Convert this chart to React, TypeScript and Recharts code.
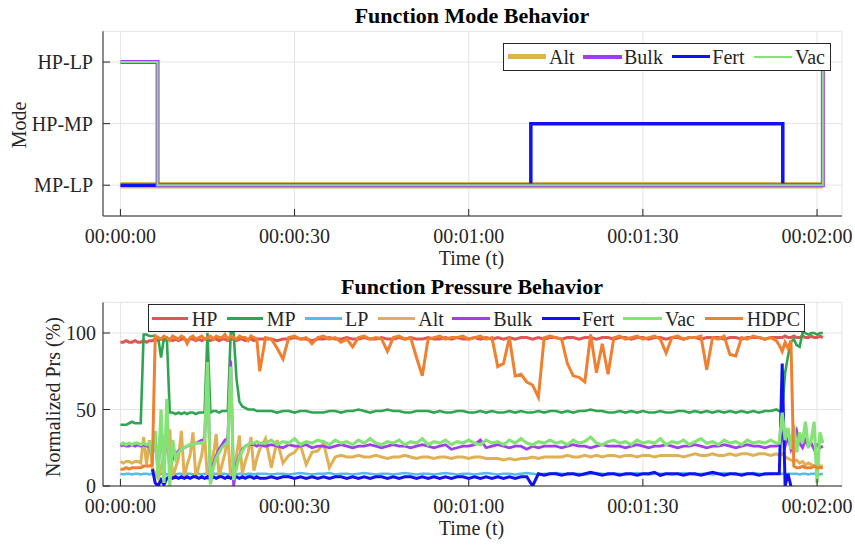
import React from "react";
import { LineChart, Line, XAxis, YAxis, CartesianGrid } from "recharts";

// ---------- Top chart: Function Mode Behavior ----------
const modeTime = [0, 6.4, 70.7, 114.1, 121];
const modeAlt = [0, 0, 0, 0, 0];
const modeBulk = [2, 0, 0, 0, 2];
const modeFert = [0, 0, 1, 0, 0];
const modeVac = [2, 0, 0, 0, 2];
const modeTickLabels = ["MP-LP", "HP-MP", "HP-LP"];

// ---------- Bottom chart: Function Pressure Behavior ----------
const timeSec = [
  0, 0.5, 1, 1.5, 2, 2.5, 3, 3.5, 4, 4.5,
  5, 5.5, 6, 6.5, 7, 7.5, 8, 8.5, 9, 9.5,
  10, 10.5, 11, 11.5, 12, 12.5, 13, 13.5, 14, 14.5,
  15, 15.5, 16, 16.5, 17, 17.5, 18, 18.5, 19, 19.5,
  20, 20.5, 21, 21.5, 22, 22.5, 23, 23.5, 24,
  25, 26, 27, 28, 29, 30, 31, 32, 33, 34,
  35, 36, 37, 38, 39, 40, 41, 42, 43, 44,
  45, 46, 47, 48, 49, 50, 51, 52, 53, 54,
  55, 56, 57, 58, 59, 60, 61, 62, 63, 64,
  65, 66, 67, 68, 69, 70, 71, 72, 73, 74,
  75, 76, 77, 78, 79, 80, 81, 82, 83, 84,
  85, 86, 87, 88, 89, 90, 91, 92, 93, 94,
  95, 96, 97, 98, 99, 100, 101, 102, 103, 104,
  105, 106, 107, 108, 109, 110, 111, 112, 113,
  113.5, 114, 114.5, 115, 115.5, 116, 116.5, 117, 117.5, 118, 118.5, 119, 119.5, 120, 120.5, 121,
];

const hpPrs = [
  94, 94, 95, 94, 94, 95, 94, 94, 95, 94,
  95, 95, 96, 95, 96, 95, 96, 96, 95, 96,
  95, 96, 96, 95, 96, 96, 95, 96, 95, 96,
  96, 95, 96, 96, 95, 96, 96, 95, 96, 96,
  95, 96, 96, 95, 96, 96, 95, 96, 96,
  96, 96, 95, 96, 96, 97, 96, 96, 95, 96,
  96, 97, 96, 96, 97, 96, 96, 97, 96, 96,
  97, 96, 96, 97, 96, 97, 96, 96, 97, 96,
  96, 97, 96, 97, 96, 96, 97, 96, 97, 96,
  97, 96, 97, 96, 97, 97, 96, 97, 96, 97,
  97, 96, 97, 97, 96, 97, 97, 96, 97, 97,
  96, 97, 97, 96, 97, 97, 96, 97, 97, 96,
  97, 97, 96, 97, 97, 96, 97, 97, 97, 96,
  97, 97, 96, 97, 97, 97, 96, 97, 97,
  97, 97, 98, 97, 97, 98, 97, 97, 98, 97, 97, 98, 97, 97, 98, 97,
];

const mpPrs = [
  40, 40, 40, 41, 42, 41, 41, 41, 99, 99,
  98, 98, 98, 97, 84, 97, 97, 48, 48, 47,
  48, 47, 48, 47, 48, 48, 47, 48, 48, 48,
  100, 48, 49, 49, 48, 49, 49, 49, 100, 100,
  70, 55, 52, 51, 50, 50, 50, 49, 49,
  49, 49, 48, 49, 49, 48, 49, 49, 48, 48,
  48, 49, 49, 48, 49, 49, 50, 49, 48, 49,
  49, 50, 49, 49, 48, 48, 49, 49, 49, 48,
  49, 48, 48, 49, 49, 48, 48, 49, 48, 49,
  48, 48, 49, 48, 49, 48, 48, 49, 48, 49,
  49, 48, 49, 48, 49, 49, 50, 49, 49, 48,
  48, 49, 48, 49, 48, 49, 48, 48, 49, 48,
  48, 49, 49, 48, 49, 48, 49, 48, 49, 48,
  49, 48, 49, 48, 49, 48, 49, 49, 50,
  49, 50, 74, 85, 94, 96, 92, 91, 100, 100, 99, 100, 100, 99, 100, 100,
];

const lpPrs = [
  8, 7.5, 8, 8, 7.5, 8, 8, 7.5, 8, 8,
  7.5, 8, 8, 7.5, 8, 8, 7.5, 8, 8, 7.5,
  8, 8, 7.5, 8, 8, 7.5, 8, 8, 7.5, 8,
  8, 7.5, 8, 8, 7.5, 8, 8, 7.5, 8, 8,
  7.5, 8, 8, 7.5, 8, 8, 7.5, 8, 8,
  8, 7.5, 8, 8, 7.5, 8, 8.5, 8, 7.5, 8,
  8, 8.5, 7.5, 8, 8, 7.5, 8, 8.5, 8, 7.5,
  8, 8, 7.5, 8, 8.5, 8, 7.5, 8, 8, 7.5,
  8, 8.5, 8, 7.5, 8, 8, 7.5, 8, 8.5, 8,
  7.5, 8, 8, 7.5, 8, 8.5, 8, 7.5, 8, 8,
  8.5, 8, 7.5, 8, 8, 7.5, 8, 8.5, 8, 7.5,
  8, 8, 7.5, 8, 8.5, 8, 7.5, 8, 8, 8,
  7.5, 8, 8.5, 8, 7.5, 8, 8, 7.5, 8, 8.5,
  8, 7.5, 8, 8, 8.5, 8, 7.5, 8, 8,
  8, 8, 8, 8, 8, 8, 8, 7.5, 8, 8, 7.5, 8, 8, 8, 7.5, 8,
];

const altPrs = [
  16, 15, 16, 16, 15, 16, 16, 15, 32, 14,
  30, 12, 8, 5, 12, 20, 25, 37, 5, 12,
  18, 36, 6, 14, 20, 35, 5, 13, 20, 34,
  4, 12, 20, 34, 6, 14, 21, 33, 5, 12,
  20, 33, 8, 16, 22, 32, 10, 18, 24,
  31, 12, 30, 15, 20, 22, 27, 14, 22, 23,
  28, 12, 19, 20, 19, 19, 20, 19, 19, 20,
  19, 18, 19, 19, 20, 19, 18, 19, 19, 18,
  19, 19, 18, 19, 19, 18, 19, 19, 18, 18,
  18, 17, 18, 17, 18, 18, 19, 18, 19, 19,
  19, 19, 20, 19, 19, 20, 19, 20, 19, 20,
  20, 19, 20, 20, 19, 20, 20, 19, 20, 20,
  20, 20, 19, 20, 21, 20, 20, 21, 20, 20,
  21, 20, 21, 21, 20, 21, 21, 20, 21,
  20, 21, 19, 18, 17, 16, 17, 15, 16, 14, 15, 14, 13, 14, 13, 13,
];

const bulkPrs = [
  26, 27, 26, 26, 27, 26, 27, 26, 27, 26,
  26, 20, 30, 10, 40, 15, 35, 12, 18, 21,
  23, 24, 25, 26, 27, 27, 28, 29, 30, 30,
  80, 2, 14, 20, 24, 27, 30, 31, 82, 0,
  14, 20, 24, 26, 27, 27, 27, 26, 27,
  26, 27, 26, 25, 27, 26, 26, 27, 25, 26,
  26, 25, 26, 27, 26, 25, 26, 26, 27, 26,
  25, 26, 27, 26, 26, 25, 26, 27, 26, 25,
  26, 27, 24, 25, 26, 26, 27, 30, 25, 26,
  27, 26, 25, 26, 26, 24, 26, 25, 26, 26,
  26, 25, 26, 27, 26, 26, 25, 26, 27, 26,
  26, 26, 25, 26, 27, 26, 25, 26, 26, 27,
  26, 25, 26, 26, 27, 26, 25, 26, 26, 27,
  26, 25, 26, 27, 26, 26, 25, 26, 26,
  27, 35, 26, 32, 24, 30, 36, 28, 25, 30, 26, 28, 24, 27, 25, 26,
];

const fertPrs = [
  null, null, null, null, null, null, null, null, null, null,
  null, 11, 2, 0, 4, 1, 5, 6, 5, 6,
  5, 6, 5, 6, 5, 6, 6, 5, 6, 5,
  6, 5, 6, 5, 6, 6, 5, 6, 5, 6,
  6, 5, 6, 5, 6, 6, 5, 6, 5,
  5, 6, 5, 6, 6, 5, 6, 5, 6, 5,
  6, 5, 6, 6, 5, 6, 5, 6, 5, 6,
  6, 5, 6, 5, 6, 6, 5, 6, 5, 6,
  5, 6, 5, 6, 6, 5, 6, 5, 6, 5,
  6, 5, 6, 5, 6, 6, 0, 8, 7, 8,
  8, 7, 8, 8, 7, 8, 9, 8, 7, 8,
  8, 7, 8, 8, 7, 8, 8, 9, 7, 8,
  8, 8, 7, 8, 8, 7, 8, 9, 8, 7,
  8, 8, 7, 8, 8, 7, 8, 8, 8,
  8, 80, 0, 8, 0, null, null, null, null, null, null, null, null, null, null, null,
];

const vacPrs = [
  27, 28, 27, 28, 27, 28, 28, 27, 28, 27,
  28, 20, 36, 5, 50, 2, 57, 0, 30, 18,
  22, 24, 25, 26, 27, 27, 28, 28, 28, 29,
  81, 1, 12, 18, 22, 25, 27, 28, 78, 4,
  12, 19, 23, 26, 27, 28, 28, 29, 28,
  28, 30, 27, 29, 28, 31, 27, 29, 28, 30,
  29, 27, 30, 28, 29, 27, 30, 28, 31, 28,
  27, 29, 28, 30, 27, 29, 28, 31, 27, 29,
  28, 30, 27, 29, 28, 30, 28, 27, 30, 28,
  29, 27, 30, 28, 31, 28, 27, 29, 28, 30,
  28, 29, 27, 30, 28, 29, 32, 28, 27, 29,
  30, 28, 29, 27, 30, 28, 29, 28, 31, 27,
  29, 28, 30, 27, 29, 31, 28, 29, 27, 30,
  28, 29, 27, 30, 28, 29, 28, 30, 28,
  28, 48, 30, 38, 24, 40, 22, 35, 28, 42, 25, 30, 42, 2, 35, 28,
];

const hdpcPrs = [
  11, 11, 12, 11, 12, 12, 12, 12, 13, 13,
  13, 14, 98, 97, 96, 98, 97, 95, 98, 97,
  96, 98, 97, 93, 97, 98, 96, 97, 98, 96,
  97, 98, 96, 98, 97, 97, 99, 96, 98, 97,
  96, 98, 97, 97, 95, 98, 97, 96, 75,
  97, 96, 90, 83, 97, 98, 96, 97, 93, 97,
  98, 96, 97, 94, 96, 91, 97, 98, 96, 97,
  96, 88, 97, 98, 96, 97, 84, 72, 96, 97,
  98, 96, 97, 97, 98, 96, 97, 98, 96, 97,
  78, 80, 97, 72, 73, 68, 66, 58, 97, 98,
  97, 96, 80, 72, 71, 68, 99, 74, 93, 73,
  97, 98, 96, 97, 98, 96, 97, 98, 96, 87,
  97, 98, 96, 97, 97, 98, 76, 97, 96, 98,
  86, 85, 97, 96, 98, 97, 96, 97, 95,
  92, 88, 94, 90, 95, 13, 12, 12, 13, 12, 12, 12, 13, 12, 12, 12,
];

const xTicks = [0, 30, 60, 90, 120];
const prsTicks = [0, 50, 100];

const FONT = '"Liberation Serif", "Times New Roman", serif';
const AXIS = "#262626";
const GRID = "#e4e4e4";

const C_HP = "#E05555";
const C_MP = "#2FA552";
const C_LP = "#52BFE8";
const C_ALT = "#E0B055";
const C_BULK = "#A23CF0";
const C_FERT = "#1212F0";
const C_VAC = "#84E276";
const C_HDPC = "#F08030";

const modeRows = modeTime.map((t, i) => ({
  t,
  Alt: modeAlt[i],
  Bulk: modeBulk[i],
  Fert: modeFert[i],
  Vac: modeVac[i],
}));

const prsRows = timeSec.map((t, i) => ({
  t,
  HP: hpPrs[i],
  MP: mpPrs[i],
  LP: lpPrs[i],
  Alt: altPrs[i],
  Bulk: bulkPrs[i],
  Fert: fertPrs[i],
  Vac: vacPrs[i],
  HDPC: hdpcPrs[i],
}));

const fmtTime = (s: number) => {
  const m = Math.floor(s / 60);
  const sec = Math.round(s % 60);
  return `00:${String(m).padStart(2, "0")}:${String(sec).padStart(2, "0")}`;
};

const XTick = (props: any) => {
  const { x, y, payload } = props;
  return (
    <g>
      <line x1={x} y1={y} x2={x} y2={y - 7} stroke={AXIS} strokeWidth={1} />
      <text x={x} y={y + 27} textAnchor="middle" fontSize={20} fontFamily={FONT} fill={AXIS}>
        {fmtTime(payload.value)}
      </text>
    </g>
  );
};

const makeYTick = (labels: ((v: number) => string), gap: number) => (props: any) => {
  const { x, y, payload } = props;
  return (
    <g>
      <line x1={x} y1={y} x2={x + 7} y2={y} stroke={AXIS} strokeWidth={1} />
      <text x={x - gap} y={y + 7} textAnchor="end" fontSize={20} fontFamily={FONT} fill={AXIS}>
        {labels(payload.value)}
      </text>
    </g>
  );
};

const ModeTick = makeYTick((v) => modeTickLabels[v] ?? "", 10);
const PrsTick = makeYTick((v) => String(v), 7);

const abs = (left: number, top: number, extra: React.CSSProperties = {}): React.CSSProperties => ({
  position: "absolute",
  left,
  top,
  ...extra,
});

const LegendItem = ({ x1, x2, ly, lw, color, tx, ty, label }: any) => (
  <>
    <div style={abs(x1, ly - lw / 2, { width: x2 - x1, height: lw, background: color })} />
    <div
      style={abs(tx, ty - 16.75, {
        fontFamily: FONT,
        fontSize: 20,
        lineHeight: "20px",
        color: AXIS,
        whiteSpace: "nowrap",
      })}
    >
      {label}
    </div>
  </>
);

const Title = ({ cy, text }: any) => (
  <div
    style={abs(272, cy, {
      width: 400,
      textAlign: "center",
      fontFamily: FONT,
      fontWeight: "bold",
      fontSize: 22,
      lineHeight: "22px",
      color: "#000",
      whiteSpace: "nowrap",
    })}
  >
    {text}
  </div>
);

const AxisLabel = ({ cx, top, text }: any) => (
  <div
    style={abs(cx - 100, top, {
      width: 200,
      textAlign: "center",
      fontFamily: FONT,
      fontSize: 20,
      lineHeight: "20px",
      color: AXIS,
      whiteSpace: "nowrap",
    })}
  >
    {text}
  </div>
);

const RotLabel = ({ cx, cy, text }: any) => (
  <div
    style={abs(cx - 120, cy - 10, {
      width: 240,
      height: 20,
      textAlign: "center",
      fontFamily: FONT,
      fontSize: 20,
      lineHeight: "20px",
      color: AXIS,
      whiteSpace: "nowrap",
      transform: "rotate(-90deg)",
    })}
  >
    {text}
  </div>
);

export default function App() {
  return (
    <div style={{ position: "absolute", left: 0, top: 0, width: 855, height: 546, background: "#fff", overflow: "hidden" }}>
      {/* Top chart */}
      <div style={abs(0, 0)}>
        <LineChart width={855} height={270} data={modeRows} margin={{ top: 31.25, right: 13, bottom: 0, left: 0 }}>
          <CartesianGrid stroke={GRID} strokeWidth={1} />
          <XAxis
            dataKey="t"
            type="number"
            domain={[-3, 124.3]}
            ticks={xTicks}
            interval={0}
            allowDataOverflow
            height={54}
            tickSize={0}
            tickMargin={0}
            tick={<XTick />}
            axisLine={{ stroke: AXIS, strokeWidth: 1 }}
            tickLine={false}
          />
          <YAxis
            type="number"
            domain={[-0.5, 2.5]}
            ticks={[0, 1, 2]}
            interval={0}
            allowDataOverflow
            width={103}
            tickSize={0}
            tickMargin={0}
            tick={<ModeTick />}
            axisLine={{ stroke: AXIS, strokeWidth: 1 }}
            tickLine={false}
          />
          <Line dataKey="Alt" type="stepAfter" stroke={C_ALT} strokeWidth={6.5} dot={false} isAnimationActive={false} />
          <Line dataKey="Fert" type="stepAfter" stroke={C_FERT} strokeWidth={3.5} dot={false} isAnimationActive={false} />
          <Line dataKey="Bulk" type="stepAfter" stroke={C_BULK} strokeWidth={4} dot={false} isAnimationActive={false} />
          <Line dataKey="Vac" type="stepAfter" stroke={C_VAC} strokeWidth={2} dot={false} isAnimationActive={false} />
        </LineChart>
      </div>

      {/* Bottom chart */}
      <div style={abs(0, 270)}>
        <LineChart width={855} height={276} data={prsRows} margin={{ top: 32.4, right: 13, bottom: 0, left: 0 }}>
          <CartesianGrid stroke={GRID} strokeWidth={1} />
          <XAxis
            dataKey="t"
            type="number"
            domain={[-3, 124.3]}
            ticks={xTicks}
            interval={0}
            allowDataOverflow
            height={60}
            tickSize={0}
            tickMargin={0}
            tick={<XTick />}
            axisLine={{ stroke: AXIS, strokeWidth: 1 }}
            tickLine={false}
          />
          <YAxis
            type="number"
            domain={[0, 120]}
            ticks={prsTicks}
            interval={0}
            allowDataOverflow
            width={103}
            tickSize={0}
            tickMargin={0}
            tick={<PrsTick />}
            axisLine={{ stroke: AXIS, strokeWidth: 1 }}
            tickLine={false}
          />
          <Line dataKey="HP" stroke={C_HP} strokeWidth={3} dot={false} isAnimationActive={false} />
          <Line dataKey="MP" stroke={C_MP} strokeWidth={2.6} dot={false} isAnimationActive={false} />
          <Line dataKey="LP" stroke={C_LP} strokeWidth={2.6} dot={false} isAnimationActive={false} />
          <Line dataKey="Alt" stroke={C_ALT} strokeWidth={3} dot={false} isAnimationActive={false} />
          <Line dataKey="Bulk" stroke={C_BULK} strokeWidth={2.8} dot={false} isAnimationActive={false} />
          <Line dataKey="Fert" stroke={C_FERT} strokeWidth={3} dot={false} isAnimationActive={false} />
          <Line dataKey="Vac" stroke={C_VAC} strokeWidth={3.2} dot={false} isAnimationActive={false} />
          <Line dataKey="HDPC" stroke={C_HDPC} strokeWidth={3} dot={false} isAnimationActive={false} />
        </LineChart>
      </div>

      {/* Titles and axis labels */}
      <Title cy={4.6} text="Function Mode Behavior" />
      <Title cy={275.5} text="Function Pressure Behavior" />
      <AxisLabel cx={471.5} top={248.3} text="Time (t)" />
      <AxisLabel cx={471.5} top={518.3} text="Time (t)" />
      <RotLabel cx={18.5} cy={124.5} text="Mode" />
      <RotLabel cx={52.5} cy={397} text="Normalized Prs (%)" />

      {/* Top legend */}
      <div style={abs(503, 42.5, { width: 328, height: 28, boxSizing: "border-box", border: `1px solid ${AXIS}`, background: "#fff" })} />
      <LegendItem x1={507.7} x2={545.7} ly={56.7} lw={5} color={C_ALT} tx={549} ty={63.5} label="Alt" />
      <LegendItem x1={583.3} x2={621.7} ly={56.7} lw={4} color={C_BULK} tx={624} ty={63.5} label="Bulk" />
      <LegendItem x1={671.7} x2={710} ly={56.7} lw={3.5} color={C_FERT} tx={712.3} ty={63.5} label="Fert" />
      <LegendItem x1={754} x2={791.7} ly={56.7} lw={2} color={C_VAC} tx={795} ty={63.5} label="Vac" />

      {/* Bottom legend */}
      <div style={abs(147.7, 303.5, { width: 657, height: 28.3, boxSizing: "border-box", border: `1px solid ${AXIS}`, background: "#fff" })} />
      <LegendItem x1={151.7} x2={188.3} ly={318.3} lw={2.5} color={C_HP} tx={191.7} ty={326} label="HP" />
      <LegendItem x1={226.7} x2={263.3} ly={318.3} lw={2.5} color={C_MP} tx={266.7} ty={326} label="MP" />
      <LegendItem x1={305} x2={341.7} ly={318.3} lw={2.5} color={C_LP} tx={345} ty={326} label="LP" />
      <LegendItem x1={378.3} x2={415} ly={318.3} lw={2.5} color={C_ALT} tx={418.3} ty={326} label="Alt" />
      <LegendItem x1={451.7} x2={490} ly={318.3} lw={2.5} color={C_BULK} tx={493.3} ty={326} label="Bulk" />
      <LegendItem x1={541.7} x2={580} ly={318.3} lw={2.5} color={C_FERT} tx={582} ty={326} label="Fert" />
      <LegendItem x1={623.3} x2={661.7} ly={318.3} lw={2.5} color={C_VAC} tx={665} ty={326} label="Vac" />
      <LegendItem x1={705} x2={743.3} ly={318.3} lw={2.5} color={C_HDPC} tx={746.7} ty={326} label="HDPC" />
    </div>
  );
}
